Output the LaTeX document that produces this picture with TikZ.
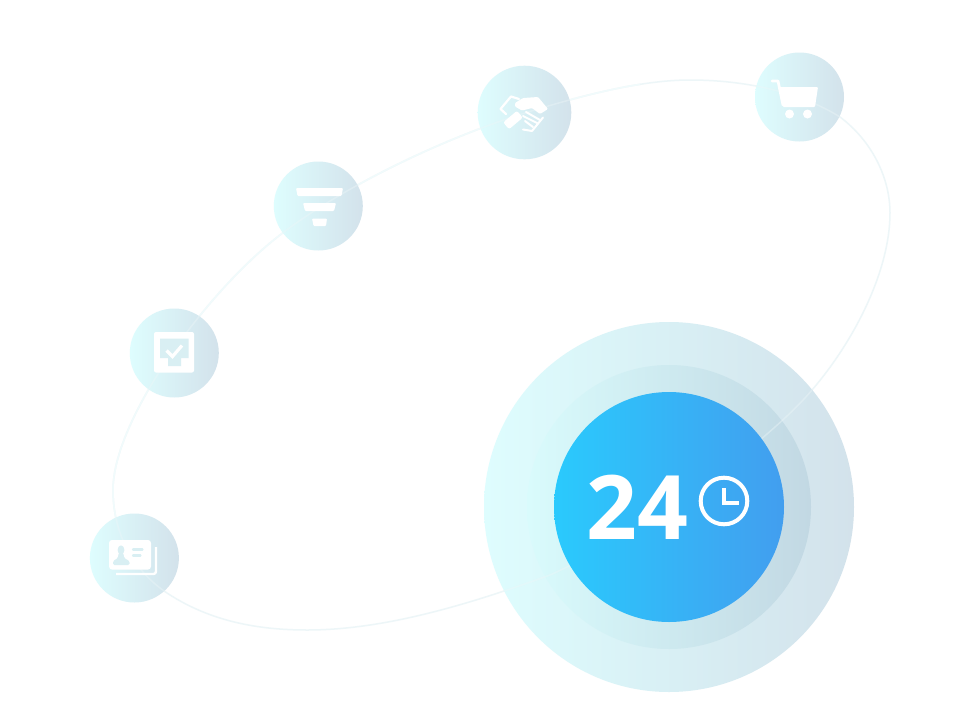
\documentclass[tikz,border=0pt]{standalone}
\usepackage{fontspec}
\setmainfont{Open Sans}
\definecolor{softL}{HTML}{DEFDFE}
\definecolor{softR}{HTML}{D3E2EB}
\definecolor{midL}{HTML}{D9FBFC}
\definecolor{midR}{HTML}{C2D8E3}
\definecolor{coreL}{HTML}{2ACAFD}
\definecolor{coreR}{HTML}{429EEF}
\definecolor{ringc}{HTML}{EDF6F8}
\definecolor{ringl}{HTML}{F1FBFC}
\definecolor{iconbg}{HTML}{D9EFF3}
\newcommand{\orbitpath}{(113,490) .. controls (113,420) and (205,293) .. (280,235) .. controls (345,185) and (445,138) .. (525,113) .. controls (580,96) and (640,80) .. (690,80) .. controls (745,80) and (800,92) .. (840,117) .. controls (872,141) and (890,178) .. (890,213) .. controls (890,270) and (855,340) .. (812,390) .. controls (770,440) and (650,530) .. (550,575) .. controls (470,604) and (385,630) .. (307,630) .. controls (250,630) and (205,618) .. (167,593) .. controls (130,568) and (113,530) .. cycle}
\tikzset{
  disc/.style={circle,inner sep=0pt,outer sep=0pt,draw=none,shading=axis,shading angle=90,left color=softL,right color=softR},
  smalldisc/.style={disc,minimum size=89pt},
  middisc/.style={disc,minimum size=284pt,left color=midL,right color=midR},
  coredisc/.style={disc,minimum size=230pt,left color=coreL,right color=coreR},
  orbit/.style={draw=ringc,line width=1.5pt},
  glyph/.style={fill=white,draw=none},
  glyphline/.style={draw=white,line cap=round,line join=round},
}
\begin{document}
\begin{tikzpicture}[x=1pt,y=-1pt]
\useasboundingbox (0,0) rectangle (967,702);
\fill[white] (0,0) rectangle (967,702);
% orbit on the white ground
\draw[orbit] \orbitpath;
\begin{scope}
\clip (0,0) rectangle (640,530);
\draw[orbit,draw=ringl] \orbitpath;
\end{scope}
% small discs
\node[smalldisc] (card) at (134.4,558) {};
\node[smalldisc] (check) at (174.3,353) {};
\node[smalldisc] (funnel) at (318.3,206) {};
\node[smalldisc,minimum size=93.6pt] (hands) at (524.5,112.5) {};
\node[smalldisc] (cart) at (799.5,97) {};
% big discs
\node[disc,minimum size=370pt] (halo) at (669,507) {};
\node[middisc] (mid) at (669,507) {};
% orbit, faint over all the discs
\begin{scope}[opacity=0.4]
\clip (card.center) circle (44.5) (check.center) circle (44.5) (funnel.center) circle (44.5) (hands.center) circle (46.8) (cart.center) circle (44.5) (halo.center) circle (185);
\draw[orbit] \orbitpath;
\end{scope}
\node[coredisc] (core) at (669,507) {};
\node[text=white,font=\bfseries\fontsize{89}{89}\selectfont,inner sep=0pt] (num) at (637,507) {24};
% clock
\coordinate (clockc) at (724,501);
\draw[white,line width=4pt] (clockc) circle (23.3);
\draw[glyphline,line width=3.5pt,line cap=butt,line join=miter] (724,488) -- (724,503) -- (739,503);
% card icon
\draw[glyph,rounded corners=3pt] (109,540) rectangle (151,569.5);
\draw[glyphline,line width=2.4pt,rounded corners=2.5pt,line cap=butt] (156,547) -- (156,574) -- (116,574);
\fill[iconbg] (121,550) ellipse (3.4 and 4.6);
\fill[iconbg,rounded corners=1.5pt] (118.5,553) -- (123.5,553) -- (124,558) -- (129.5,561) -- (129.5,565) -- (113,565) -- (113,561) -- (118,558) -- cycle;
\draw[iconbg,line width=2.2pt,line cap=round] (133,549.5) -- (142.5,549.5) (133,555.5) -- (140.5,555.5);
% check icon
\draw[glyph,rounded corners=2pt] (154,332) rectangle (194,372.5);
\fill[iconbg] (160,338.5) -- (188.5,338.5) -- (188.5,358) -- (181,358) -- (181,366) -- (168,366) -- (168,358) -- (160,358) -- cycle;
\draw[glyphline,line width=3.2pt,line cap=butt,line join=miter] (166.5,350.5) -- (172.5,356.5) -- (182,345.5);
% funnel icon
\fill[glyph,rounded corners=1pt] (296,188) -- (343,188) -- (341.5,196) -- (297.5,196) -- cycle;
\fill[glyph,rounded corners=1pt] (303,203) -- (336,203) -- (334,211) -- (305,211) -- cycle;
\fill[glyph,rounded corners=1pt] (312,218.5) -- (327,218.5) -- (326,226) -- (313.5,226) -- cycle;
% handshake icon
\draw[glyphline,line width=2.2pt] (519,99) -- (511,96.5) -- (500.5,109) -- (506,114);
\fill[glyph,rounded corners=1pt] (515,103) -- (523,98) -- (538,97) -- (548,109) -- (540,114) -- (532,108) -- (522,110.5) -- (515,106.5) -- cycle;
\fill[glyph,rounded corners=2pt,rotate around={40:(513,120)}] (504,115.5) rectangle (522,124.5);
\draw[glyphline,line width=2pt] (526,112) -- (540,120) (523,116) -- (538,123.5) (525,121) -- (533,127);
\draw[glyphline,line width=2pt] (523,129.5) -- (532,131) -- (543,117.5);
% cart icon
\draw[glyphline,line width=2.8pt,line cap=round] (772,81) -- (778,81) -- (783,105);
\fill[glyph,rounded corners=1pt] (779,87) -- (818,87) -- (815,107) -- (783,107) -- cycle;
\fill[glyph] (789.5,114) circle (4.5) (807.5,114) circle (4.5);
\end{tikzpicture}
\end{document}
